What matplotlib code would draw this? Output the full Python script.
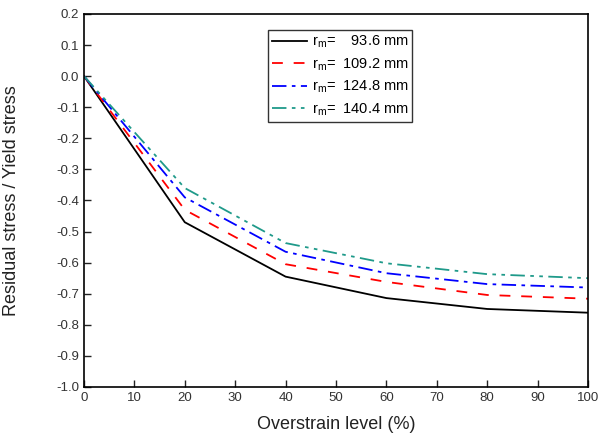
import matplotlib
matplotlib.use("Agg")
import matplotlib.pyplot as plt

plt.rcParams['font.family'] = ['Liberation Sans', 'DejaVu Sans']
plt.rcParams['mathtext.fontset'] = 'custom'
plt.rcParams['mathtext.rm'] = 'Liberation Sans'

overstrain = [0, 20, 40, 60, 80, 100]
radii = ["93.6", "109.2", "124.8", "140.4"]
s1 = [0.0, -0.470, -0.645, -0.714, -0.749, -0.761]
s2 = [0.0, -0.430, -0.605, -0.662, -0.704, -0.716]
s3 = [0.0, -0.390, -0.565, -0.634, -0.669, -0.680]
s4 = [0.0, -0.360, -0.537, -0.602, -0.637, -0.650]

fig = plt.figure(figsize=(6.02, 4.36), dpi=100)
ax = fig.add_axes([0.1395, 0.1124, 0.8372, 0.8556])

ax.plot(overstrain, s1, color='black', lw=1.3, ls='-',
        label=r"r$_\mathregular{m}$=    " + radii[0] + " mm")
ax.plot(overstrain, s2, color='red', lw=1.3, ls=(0, (6, 6)),
        label=r"r$_\mathregular{m}$=  " + radii[1] + " mm")
ax.plot(overstrain, s3, color='blue', lw=1.3, ls=(0, (8, 3, 2, 3)),
        label=r"r$_\mathregular{m}$=  " + radii[2] + " mm")
ax.plot(overstrain, s4, color='#1f9a8a', lw=1.3, ls=(0, (8, 3, 2, 3, 2, 3)),
        label=r"r$_\mathregular{m}$=  " + radii[3] + " mm")

ax.set_xlim(0, 100)
ax.set_ylim(-1.0, 0.2)
ax.set_xticks(range(0, 101, 10))
ax.set_yticks([i / 10 for i in range(-10, 3)])
ax.set_yticklabels([f"{i / 10:.1f}" for i in range(-10, 3)])
ax.tick_params(direction='in', labelsize=9.5, length=5, width=1, top=False, right=False,
               colors='#222222', labelcolor='#333333')
for sp in ax.spines.values():
    sp.set_linewidth(1.2)

ax.set_xlabel("Overstrain level (%)", fontsize=13, color='#222222')
ax.set_ylabel("Residual stress / Yield stress", fontsize=13, color='#222222')
ax.xaxis.set_label_coords(0.5, -0.078)
ax.yaxis.set_label_coords(-0.127, 0.5)

leg = ax.legend(loc='upper left', bbox_to_anchor=(0.365, 0.957), fontsize=10.5,
                frameon=True, fancybox=False, edgecolor='black',
                handlelength=2.4, borderpad=0.25, labelspacing=0.4, handletextpad=0.35,
                borderaxespad=0)
leg.get_frame().set_linewidth(1.0)

fig.savefig("out.png", dpi=100)
